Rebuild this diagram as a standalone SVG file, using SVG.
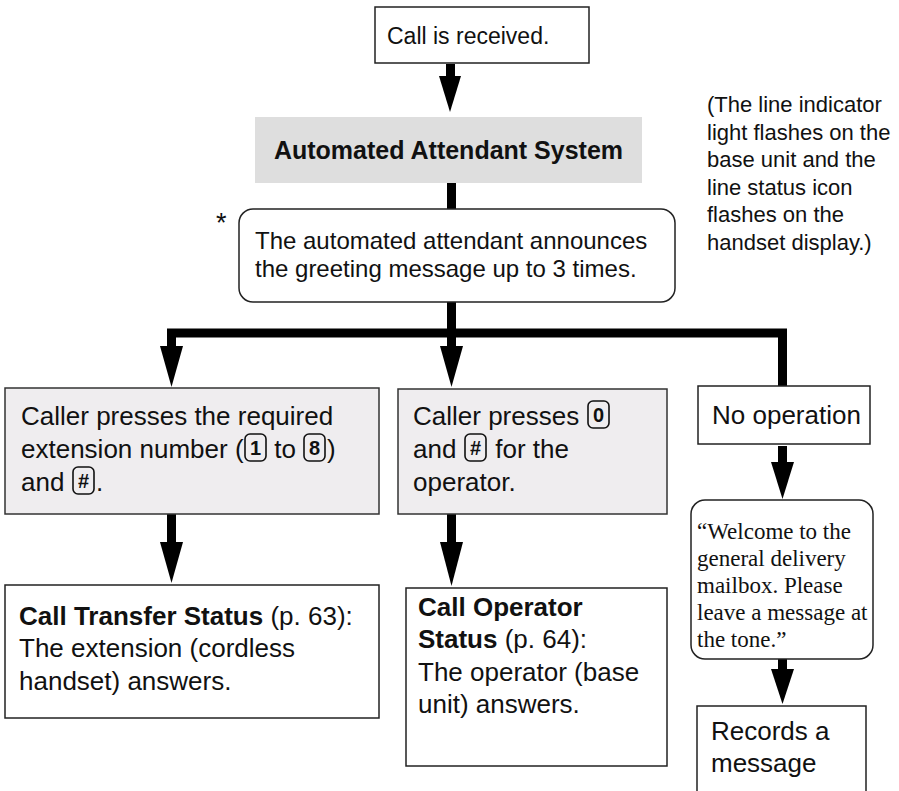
<svg xmlns="http://www.w3.org/2000/svg" width="899" height="791" viewBox="0 0 899 791">
<style>
text{font-family:"Liberation Sans",Arial,Helvetica,sans-serif;fill:#111;white-space:pre}
.box{fill:#fff;stroke:#222;stroke-width:1.5}
.grey{fill:#efedef;stroke:#333;stroke-width:1.5}
.t26{font-size:26px}
.t24{font-size:24px}
.t23{font-size:23px}
.t22{font-size:22px}
.b{font-weight:bold}
.serif{font-family:"Liberation Serif","Times New Roman",serif;font-size:23px}
.key{fill:none;stroke:#111;stroke-width:1.6}
.kt{font-size:20px;font-weight:bold;text-anchor:middle}
.line{fill:none;stroke:#000;stroke-width:9;stroke-linejoin:miter}
.head{fill:#000}
</style>

<g id="connectors">
  <path class="line" d="M450.5,64 V80"/>
  <polygon class="head" points="439,76 461,76 450,112"/>
  <path class="line" d="M451.5,183 V210"/>
  <path class="line" d="M451.5,301 V350"/>
  <path class="line" d="M171.5,350 V333 H782.5 V387"/>
  <polygon class="head" points="160,346 183,346 171.5,387"/>
  <polygon class="head" points="440,346 463,346 451.5,387"/>
  <path class="line" d="M171.5,514 V548"/>
  <polygon class="head" points="160,542 183,542 171.5,583"/>
  <path class="line" d="M451.5,514 V548"/>
  <polygon class="head" points="440,542 463,542 451.5,586"/>
  <path class="line" d="M782.5,446 V466"/>
  <polygon class="head" points="771,462 794,462 782.5,499"/>
  <path class="line" d="M782.5,659 V673"/>
  <polygon class="head" points="771,669 794,669 782.5,704"/>
</g>

<g id="call-received">
  <rect class="box" x="375" y="7" width="214" height="56"/>
  <text class="t23" x="387" y="44">Call is received.</text>
</g>

<g id="auto-attendant">
  <rect x="255" y="117" width="387" height="66" fill="#dedede"/>
  <text class="b" x="448.5" y="159" text-anchor="middle" style="font-size:25px">Automated Attendant System</text>
</g>

<g id="note">
  <text class="t22" x="707" y="112">(The line indicator</text>
  <text class="t22" x="707" y="139.5">light flashes on the</text>
  <text class="t22" x="707" y="167">base unit and the</text>
  <text class="t22" x="707" y="194.5">line status icon</text>
  <text class="t22" x="707" y="222">flashes on the</text>
  <text class="t22" x="707" y="249.5">handset display.)</text>
</g>

<g id="greeting">
  <text x="216" y="232" style="font-size:27px">*</text>
  <rect class="box" x="239" y="209" width="436" height="93" rx="14"/>
  <text class="t24" x="255" y="249">The automated attendant announces</text>
  <text class="t24" x="255" y="277">the greeting message up to 3 times.</text>
</g>

<g id="extension-box">
  <rect class="grey" x="5" y="388" width="374" height="126"/>
  <text class="t26" x="21" y="425">Caller presses the required</text>
  <text class="t26" x="21" y="458">extension number (</text>
  <rect class="key" x="245" y="434" width="21" height="27" rx="5"/>
  <text class="kt" x="255.5" y="455">1</text>
  <text class="t26" x="267" y="458"> to </text>
  <rect class="key" x="304" y="434" width="21" height="27" rx="5"/>
  <text class="kt" x="314.5" y="455">8</text>
  <text class="t26" x="327" y="458">)</text>
  <text class="t26" x="21" y="491">and </text>
  <rect class="key" x="73" y="467" width="21" height="27" rx="5"/>
  <text class="kt" x="83.5" y="488">#</text>
  <text class="t26" x="96" y="491">.</text>
</g>

<g id="operator-box">
  <rect class="grey" x="398" y="389" width="269" height="125"/>
  <text class="t26" x="413" y="425">Caller presses</text>
  <rect class="key" x="588" y="401" width="21" height="27" rx="5"/>
  <text class="kt" x="598.5" y="422">0</text>
  <text class="t26" x="413" y="458">and</text>
  <rect class="key" x="465" y="434" width="21" height="27" rx="5"/>
  <text class="kt" x="475.5" y="455">#</text>
  <text class="t26" x="488" y="458"> for the</text>
  <text class="t26" x="413" y="491">operator.</text>
</g>

<g id="no-operation">
  <rect class="box" x="698" y="386" width="172" height="58"/>
  <text class="t26" x="712" y="424">No operation</text>
</g>

<g id="transfer-status">
  <rect class="box" x="5" y="585" width="374" height="133"/>
  <text class="t26" x="19" y="625"><tspan class="b">Call Transfer Status</tspan> (p. 63):</text>
  <text class="t26" x="19" y="657">The extension (cordless</text>
  <text class="t26" x="19" y="690">handset) answers.</text>
</g>

<g id="operator-status">
  <rect class="box" x="406" y="588" width="261" height="178"/>
  <text class="t26 b" x="418" y="616">Call Operator</text>
  <text class="t26" x="418" y="648"><tspan class="b">Status</tspan> (p. 64):</text>
  <text class="t26" x="418" y="681">The operator (base</text>
  <text class="t26" x="418" y="713">unit) answers.</text>
</g>

<g id="mailbox-greeting">
  <rect class="box" x="691" y="500" width="182" height="159" rx="14"/>
  <text class="serif" x="697" y="539">“Welcome to the</text>
  <text class="serif" x="697" y="566">general delivery</text>
  <text class="serif" x="697" y="593">mailbox. Please</text>
  <text class="serif" x="697" y="620">leave a message at</text>
  <text class="serif" x="697" y="647">the tone.”</text>
</g>

<g id="records">
  <path class="box" d="M697,800 V706 H866 V800"/>
  <text class="t26" x="711" y="740">Records a</text>
  <text class="t26" x="711" y="772">message</text>
</g>
</svg>
